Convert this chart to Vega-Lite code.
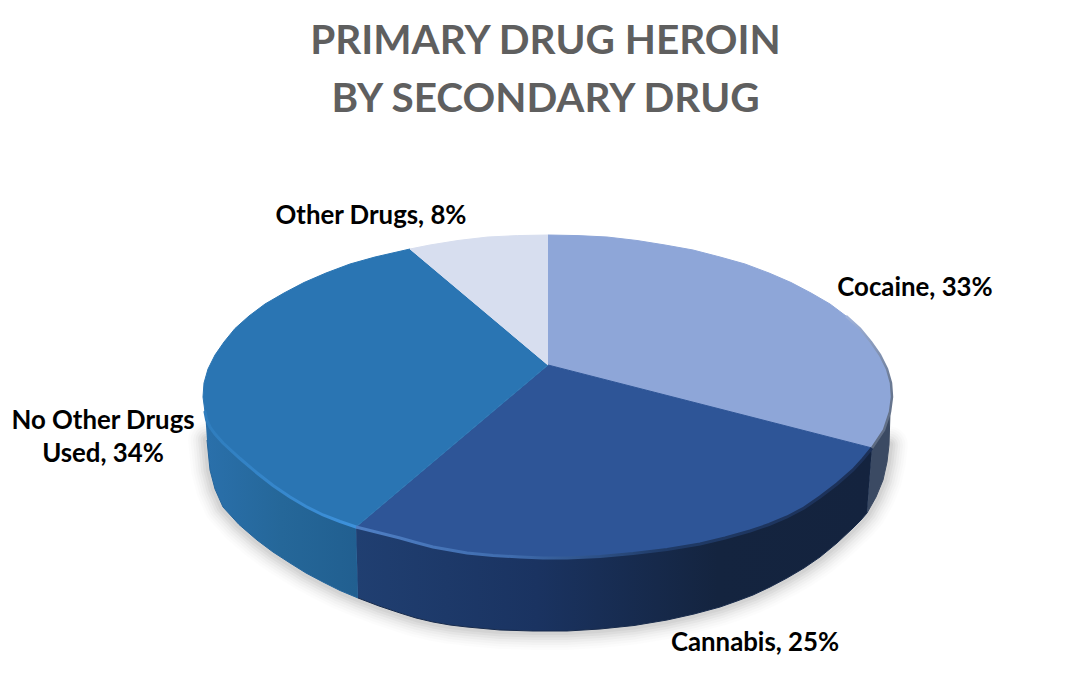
{
"$schema":"https://vega.github.io/schema/vega-lite/v6.json",
"width":1091,"height":673,"autosize":"none","padding":0,"background":"white",
"title":{"text":["PRIMARY DRUG HEROIN","BY SECONDARY DRUG"],"font":"Lato","fontWeight":"bold","fontSize":40.5,"lineHeight":58,"color":"#5f5f5f","anchor":"middle","baseline":"alphabetic","offset":0,"dy":152},
"config":{"view":{"stroke":null}},
"datasets":{
"labels":[
{"drug":"Other Drugs","share":8,"label":"Other Drugs, 8%","x":371,"y":216},
{"drug":"Cocaine","share":33,"label":"Cocaine, 33%","x":915,"y":288},
{"drug":"Cannabis","share":25,"label":"Cannabis, 25%","x":755,"y":643},
{"drug":"No Other Drugs Used","share":34,"label":"No Other Drugs\nUsed, 34%","x":103,"y":421}
],
"outline":[
{"p":"edge","i":1,"x":207,"y":440},{"p":"edge","i":2,"x":210,"y":470},{"p":"edge","i":3,"x":215,"y":489},{"p":"edge","i":4,"x":223,"y":507},{"p":"edge","i":5,"x":239,"y":524.5},{"p":"edge","i":6,"x":257,"y":540},{"p":"edge","i":7,"x":273,"y":552},{"p":"edge","i":8,"x":290,"y":563},{"p":"edge","i":9,"x":306,"y":573},{"p":"edge","i":10,"x":323,"y":582},{"p":"edge","i":11,"x":340,"y":590.5},{"p":"edge","i":12,"x":358,"y":598},{"p":"edge","i":13,"x":379,"y":606},{"p":"edge","i":14,"x":400,"y":613},{"p":"edge","i":15,"x":416,"y":618},{"p":"edge","i":16,"x":433,"y":622},{"p":"edge","i":17,"x":450,"y":625},{"p":"edge","i":18,"x":467,"y":627},{"p":"edge","i":19,"x":500,"y":630},{"p":"edge","i":20,"x":533,"y":631},{"p":"edge","i":21,"x":567,"y":631},{"p":"edge","i":22,"x":600,"y":629},{"p":"edge","i":23,"x":634,"y":625.5},{"p":"edge","i":24,"x":667,"y":620},{"p":"edge","i":25,"x":694,"y":614},{"p":"edge","i":26,"x":720,"y":607},{"p":"edge","i":27,"x":737,"y":601},{"p":"edge","i":28,"x":753,"y":595},{"p":"edge","i":29,"x":770,"y":587},{"p":"edge","i":30,"x":787,"y":578},{"p":"edge","i":31,"x":804,"y":568},{"p":"edge","i":32,"x":820,"y":557},{"p":"edge","i":33,"x":837,"y":543},{"p":"edge","i":34,"x":853,"y":528},{"p":"edge","i":35,"x":861,"y":520},{"p":"edge","i":36,"x":867,"y":513},{"p":"edge","i":37,"x":876,"y":497},{"p":"edge","i":38,"x":883,"y":480},{"p":"edge","i":39,"x":887,"y":462},{"p":"edge","i":40,"x":889,"y":445},

{"p":"wall_noother","i":1,"x":205,"y":412},{"p":"wall_noother","i":2,"x":206.5,"y":419.5},{"p":"wall_noother","i":3,"x":210,"y":427},{"p":"wall_noother","i":4,"x":215,"y":434},{"p":"wall_noother","i":5,"x":223,"y":443},{"p":"wall_noother","i":6,"x":240,"y":458.5},{"p":"wall_noother","i":7,"x":257,"y":473},{"p":"wall_noother","i":8,"x":273,"y":485.5},{"p":"wall_noother","i":9,"x":290,"y":497},{"p":"wall_noother","i":10,"x":306,"y":506.5},{"p":"wall_noother","i":11,"x":323,"y":515},{"p":"wall_noother","i":12,"x":340,"y":521.5},{"p":"wall_noother","i":13,"x":356,"y":527},{"p":"wall_noother","i":14,"x":358,"y":598},{"p":"wall_noother","i":15,"x":340,"y":590.5},{"p":"wall_noother","i":16,"x":323,"y":582},{"p":"wall_noother","i":17,"x":306,"y":573},{"p":"wall_noother","i":18,"x":290,"y":563},{"p":"wall_noother","i":19,"x":273,"y":552},{"p":"wall_noother","i":20,"x":257,"y":540},{"p":"wall_noother","i":21,"x":239,"y":524.5},{"p":"wall_noother","i":22,"x":223,"y":507},{"p":"wall_noother","i":23,"x":215,"y":489},{"p":"wall_noother","i":24,"x":210,"y":470},{"p":"wall_noother","i":25,"x":207,"y":440},

{"p":"wall_cannabis","i":1,"x":356,"y":527},{"p":"wall_cannabis","i":2,"x":378,"y":532.5},{"p":"wall_cannabis","i":3,"x":400,"y":538},{"p":"wall_cannabis","i":4,"x":416,"y":542.5},{"p":"wall_cannabis","i":5,"x":433,"y":547},{"p":"wall_cannabis","i":6,"x":450,"y":550},{"p":"wall_cannabis","i":7,"x":467,"y":553},{"p":"wall_cannabis","i":8,"x":493,"y":555.5},{"p":"wall_cannabis","i":9,"x":520,"y":557},{"p":"wall_cannabis","i":10,"x":543,"y":558},{"p":"wall_cannabis","i":11,"x":567,"y":558},{"p":"wall_cannabis","i":12,"x":600,"y":556.5},{"p":"wall_cannabis","i":13,"x":633,"y":553.5},{"p":"wall_cannabis","i":14,"x":667,"y":549.5},{"p":"wall_cannabis","i":15,"x":700,"y":544},{"p":"wall_cannabis","i":16,"x":725,"y":538},{"p":"wall_cannabis","i":17,"x":750,"y":531},{"p":"wall_cannabis","i":18,"x":769,"y":524.5},{"p":"wall_cannabis","i":19,"x":787,"y":517},{"p":"wall_cannabis","i":20,"x":804,"y":508},{"p":"wall_cannabis","i":21,"x":820,"y":497},{"p":"wall_cannabis","i":22,"x":837,"y":484},{"p":"wall_cannabis","i":23,"x":853,"y":470},{"p":"wall_cannabis","i":24,"x":863,"y":459},{"p":"wall_cannabis","i":25,"x":872,"y":448},{"p":"wall_cannabis","i":26,"x":867,"y":513},{"p":"wall_cannabis","i":27,"x":861,"y":520},{"p":"wall_cannabis","i":28,"x":853,"y":528},{"p":"wall_cannabis","i":29,"x":837,"y":543},{"p":"wall_cannabis","i":30,"x":820,"y":557},{"p":"wall_cannabis","i":31,"x":804,"y":568},{"p":"wall_cannabis","i":32,"x":787,"y":578},{"p":"wall_cannabis","i":33,"x":770,"y":587},{"p":"wall_cannabis","i":34,"x":753,"y":595},{"p":"wall_cannabis","i":35,"x":737,"y":601},{"p":"wall_cannabis","i":36,"x":720,"y":607},{"p":"wall_cannabis","i":37,"x":694,"y":614},{"p":"wall_cannabis","i":38,"x":667,"y":620},{"p":"wall_cannabis","i":39,"x":634,"y":625.5},{"p":"wall_cannabis","i":40,"x":600,"y":629},{"p":"wall_cannabis","i":41,"x":567,"y":631},{"p":"wall_cannabis","i":42,"x":533,"y":631},{"p":"wall_cannabis","i":43,"x":500,"y":630},{"p":"wall_cannabis","i":44,"x":467,"y":627},{"p":"wall_cannabis","i":45,"x":450,"y":625},{"p":"wall_cannabis","i":46,"x":433,"y":622},{"p":"wall_cannabis","i":47,"x":416,"y":618},{"p":"wall_cannabis","i":48,"x":400,"y":613},{"p":"wall_cannabis","i":49,"x":379,"y":606},{"p":"wall_cannabis","i":50,"x":358,"y":598},

{"p":"wall_cocaine","i":1,"x":872,"y":448},{"p":"wall_cocaine","i":2,"x":884,"y":430},{"p":"wall_cocaine","i":3,"x":890,"y":412},{"p":"wall_cocaine","i":4,"x":889,"y":445},{"p":"wall_cocaine","i":5,"x":887,"y":462},{"p":"wall_cocaine","i":6,"x":883,"y":480},{"p":"wall_cocaine","i":7,"x":876,"y":497},{"p":"wall_cocaine","i":8,"x":867,"y":513},

{"p":"top_cocaine","i":1,"x":548,"y":365},{"p":"top_cocaine","i":2,"x":548,"y":235},{"p":"top_cocaine","i":3,"x":578,"y":235.6},{"p":"top_cocaine","i":4,"x":607,"y":237},{"p":"top_cocaine","i":5,"x":637,"y":240.5},{"p":"top_cocaine","i":6,"x":665,"y":245},{"p":"top_cocaine","i":7,"x":693,"y":250},{"p":"top_cocaine","i":8,"x":720,"y":257},{"p":"top_cocaine","i":9,"x":745,"y":264},{"p":"top_cocaine","i":10,"x":769,"y":273},{"p":"top_cocaine","i":11,"x":791,"y":282.5},{"p":"top_cocaine","i":12,"x":811,"y":293},{"p":"top_cocaine","i":13,"x":830,"y":304},{"p":"top_cocaine","i":14,"x":846,"y":316},{"p":"top_cocaine","i":15,"x":860,"y":328.5},{"p":"top_cocaine","i":16,"x":871,"y":342},{"p":"top_cocaine","i":17,"x":880,"y":355},{"p":"top_cocaine","i":18,"x":887,"y":369},{"p":"top_cocaine","i":19,"x":891,"y":383},{"p":"top_cocaine","i":20,"x":892,"y":397},{"p":"top_cocaine","i":21,"x":890,"y":412},{"p":"top_cocaine","i":22,"x":884,"y":430},{"p":"top_cocaine","i":23,"x":872,"y":448},

{"p":"top_cannabis","i":1,"x":548,"y":365},{"p":"top_cannabis","i":2,"x":872,"y":448},{"p":"top_cannabis","i":3,"x":863,"y":459},{"p":"top_cannabis","i":4,"x":853,"y":470},{"p":"top_cannabis","i":5,"x":837,"y":484},{"p":"top_cannabis","i":6,"x":820,"y":497},{"p":"top_cannabis","i":7,"x":804,"y":508},{"p":"top_cannabis","i":8,"x":787,"y":517},{"p":"top_cannabis","i":9,"x":769,"y":524.5},{"p":"top_cannabis","i":10,"x":750,"y":531},{"p":"top_cannabis","i":11,"x":725,"y":538},{"p":"top_cannabis","i":12,"x":700,"y":544},{"p":"top_cannabis","i":13,"x":667,"y":549.5},{"p":"top_cannabis","i":14,"x":633,"y":553.5},{"p":"top_cannabis","i":15,"x":600,"y":556.5},{"p":"top_cannabis","i":16,"x":567,"y":558},{"p":"top_cannabis","i":17,"x":543,"y":558},{"p":"top_cannabis","i":18,"x":520,"y":557},{"p":"top_cannabis","i":19,"x":493,"y":555.5},{"p":"top_cannabis","i":20,"x":467,"y":553},{"p":"top_cannabis","i":21,"x":450,"y":550},{"p":"top_cannabis","i":22,"x":433,"y":547},{"p":"top_cannabis","i":23,"x":416,"y":542.5},{"p":"top_cannabis","i":24,"x":400,"y":538},{"p":"top_cannabis","i":25,"x":378,"y":532.5},{"p":"top_cannabis","i":26,"x":356,"y":527},

{"p":"top_noother","i":1,"x":548,"y":365},{"p":"top_noother","i":2,"x":356,"y":527},{"p":"top_noother","i":3,"x":340,"y":521.5},{"p":"top_noother","i":4,"x":323,"y":515},{"p":"top_noother","i":5,"x":306,"y":506.5},{"p":"top_noother","i":6,"x":290,"y":497},{"p":"top_noother","i":7,"x":273,"y":485.5},{"p":"top_noother","i":8,"x":257,"y":473},{"p":"top_noother","i":9,"x":240,"y":458.5},{"p":"top_noother","i":10,"x":223,"y":443},{"p":"top_noother","i":11,"x":215,"y":434},{"p":"top_noother","i":12,"x":210,"y":427},{"p":"top_noother","i":13,"x":206.5,"y":419.5},{"p":"top_noother","i":14,"x":205,"y":412},{"p":"top_noother","i":15,"x":203,"y":397},{"p":"top_noother","i":16,"x":204,"y":383},{"p":"top_noother","i":17,"x":208,"y":369},{"p":"top_noother","i":18,"x":215,"y":355},{"p":"top_noother","i":19,"x":224,"y":342},{"p":"top_noother","i":20,"x":235,"y":328.5},{"p":"top_noother","i":21,"x":249,"y":316},{"p":"top_noother","i":22,"x":265,"y":304},{"p":"top_noother","i":23,"x":284,"y":293},{"p":"top_noother","i":24,"x":304,"y":282.5},{"p":"top_noother","i":25,"x":326,"y":273},{"p":"top_noother","i":26,"x":350,"y":264},{"p":"top_noother","i":27,"x":375,"y":257},{"p":"top_noother","i":28,"x":410,"y":249},

{"p":"top_other","i":1,"x":548,"y":365},{"p":"top_other","i":2,"x":410,"y":249},{"p":"top_other","i":3,"x":430,"y":245},{"p":"top_other","i":4,"x":458,"y":240.5},{"p":"top_other","i":5,"x":488,"y":237},{"p":"top_other","i":6,"x":517.5,"y":235.6},{"p":"top_other","i":7,"x":548,"y":235},

{"p":"bevel_noother","i":1,"x":205,"y":412},{"p":"bevel_noother","i":2,"x":206.5,"y":419.5},{"p":"bevel_noother","i":3,"x":210,"y":427},{"p":"bevel_noother","i":4,"x":215,"y":434},{"p":"bevel_noother","i":5,"x":223,"y":443},{"p":"bevel_noother","i":6,"x":240,"y":458.5},{"p":"bevel_noother","i":7,"x":257,"y":473},{"p":"bevel_noother","i":8,"x":273,"y":485.5},{"p":"bevel_noother","i":9,"x":290,"y":497},{"p":"bevel_noother","i":10,"x":306,"y":506.5},{"p":"bevel_noother","i":11,"x":323,"y":515},{"p":"bevel_noother","i":12,"x":340,"y":521.5},{"p":"bevel_noother","i":13,"x":356,"y":527},

{"p":"bevel_cannabis","i":1,"x":356,"y":527},{"p":"bevel_cannabis","i":2,"x":378,"y":532.5},{"p":"bevel_cannabis","i":3,"x":400,"y":538},{"p":"bevel_cannabis","i":4,"x":416,"y":542.5},{"p":"bevel_cannabis","i":5,"x":433,"y":547},{"p":"bevel_cannabis","i":6,"x":450,"y":550},{"p":"bevel_cannabis","i":7,"x":467,"y":553},{"p":"bevel_cannabis","i":8,"x":493,"y":555.5},{"p":"bevel_cannabis","i":9,"x":520,"y":557},{"p":"bevel_cannabis","i":10,"x":543,"y":558},{"p":"bevel_cannabis","i":11,"x":567,"y":558},{"p":"bevel_cannabis","i":12,"x":600,"y":556.5},{"p":"bevel_cannabis","i":13,"x":633,"y":553.5},{"p":"bevel_cannabis","i":14,"x":667,"y":549.5},{"p":"bevel_cannabis","i":15,"x":700,"y":544},{"p":"bevel_cannabis","i":16,"x":725,"y":538},{"p":"bevel_cannabis","i":17,"x":750,"y":531},{"p":"bevel_cannabis","i":18,"x":769,"y":524.5},{"p":"bevel_cannabis","i":19,"x":787,"y":517},{"p":"bevel_cannabis","i":20,"x":804,"y":508},{"p":"bevel_cannabis","i":21,"x":820,"y":497},{"p":"bevel_cannabis","i":22,"x":837,"y":484},{"p":"bevel_cannabis","i":23,"x":853,"y":470},{"p":"bevel_cannabis","i":24,"x":863,"y":459},{"p":"bevel_cannabis","i":25,"x":872,"y":448},

{"p":"bevel_cocaine","i":1,"x":846,"y":316},{"p":"bevel_cocaine","i":2,"x":860,"y":328.5},{"p":"bevel_cocaine","i":3,"x":871,"y":342},{"p":"bevel_cocaine","i":4,"x":880,"y":355},{"p":"bevel_cocaine","i":5,"x":887,"y":369},{"p":"bevel_cocaine","i":6,"x":891,"y":383},{"p":"bevel_cocaine","i":7,"x":892,"y":397},{"p":"bevel_cocaine","i":8,"x":890,"y":412},{"p":"bevel_cocaine","i":9,"x":884,"y":430},{"p":"bevel_cocaine","i":10,"x":872,"y":448}
]
},
"data":{"name":"outline"},
"encoding":{
"x":{"field":"x","type":"quantitative","scale":{"domain":[0,1091],"nice":false,"zero":false},"axis":null},
"y":{"field":"y","type":"quantitative","scale":{"domain":[673,0],"nice":false,"zero":false},"axis":null},
"order":{"field":"i","type":"ordinal"}
},
"layer":[
{"transform":[{"filter":"datum.p==='edge'"}],"mark":{"type":"line","stroke":"#000000","strokeWidth":38,"opacity":0.012,"strokeJoin":"round","strokeCap":"round"}},
{"transform":[{"filter":"datum.p==='edge'"}],"mark":{"type":"line","stroke":"#000000","strokeWidth":33,"opacity":0.016,"strokeJoin":"round","strokeCap":"round"}},
{"transform":[{"filter":"datum.p==='edge'"}],"mark":{"type":"line","stroke":"#000000","strokeWidth":28,"opacity":0.02,"strokeJoin":"round","strokeCap":"round"}},
{"transform":[{"filter":"datum.p==='edge'"}],"mark":{"type":"line","stroke":"#000000","strokeWidth":23,"opacity":0.025,"strokeJoin":"round","strokeCap":"round"}},
{"transform":[{"filter":"datum.p==='edge'"}],"mark":{"type":"line","stroke":"#000000","strokeWidth":18,"opacity":0.03,"strokeJoin":"round","strokeCap":"round"}},
{"transform":[{"filter":"datum.p==='edge'"}],"mark":{"type":"line","stroke":"#000000","strokeWidth":13,"opacity":0.035,"strokeJoin":"round","strokeCap":"round"}},
{"transform":[{"filter":"datum.p==='edge'"}],"mark":{"type":"line","stroke":"#000000","strokeWidth":8,"opacity":0.04,"strokeJoin":"round","strokeCap":"round"}},

{"transform":[{"filter":"datum.p==='wall_noother'"}],"mark":{"type":"line","strokeWidth":1,"stroke":"#24659c","fill":{"gradient":"linear","x1":0,"y1":0,"x2":1,"y2":0,"stops":[{"offset":0,"color":"#2a70ab"},{"offset":0.5,"color":"#256799"},{"offset":1,"color":"#215f90"}]}}},
{"transform":[{"filter":"datum.p==='wall_cannabis'"}],"mark":{"type":"line","strokeWidth":1,"stroke":"#182b4c","fill":{"gradient":"linear","x1":0,"y1":0,"x2":1,"y2":0,"stops":[{"offset":0,"color":"#203f71"},{"offset":0.35,"color":"#1a3361"},{"offset":0.7,"color":"#14243f"},{"offset":1,"color":"#14233e"}]}}},
{"transform":[{"filter":"datum.p==='wall_cocaine'"}],"mark":{"type":"line","strokeWidth":1,"stroke":"#3b4a63","fill":"#3b4a63"}},

{"transform":[{"filter":"datum.p==='top_cocaine'"}],"mark":{"type":"line","strokeWidth":1,"stroke":"#8ea6d8","fill":"#8ea6d8"}},
{"transform":[{"filter":"datum.p==='top_cannabis'"}],"mark":{"type":"line","strokeWidth":1,"stroke":"#2e5597","fill":"#2e5597"}},
{"transform":[{"filter":"datum.p==='top_noother'"}],"mark":{"type":"line","strokeWidth":1,"stroke":"#2a75b3","fill":"#2a75b3"}},
{"transform":[{"filter":"datum.p==='top_other'"}],"mark":{"type":"line","strokeWidth":1,"stroke":"#d7deef","fill":"#d7deef"}},

{"transform":[{"filter":"datum.p==='bevel_noother'"}],"mark":{"type":"line","strokeWidth":3,"strokeCap":"round","stroke":{"gradient":"linear","x1":0,"y1":0,"x2":1,"y2":0,"stops":[{"offset":0,"color":"#2f7dbd"},{"offset":1,"color":"#3e92dc"}]}}},
{"transform":[{"filter":"datum.p==='bevel_cannabis'"}],"mark":{"type":"line","strokeWidth":3,"stroke":{"gradient":"linear","x1":0,"y1":0,"x2":1,"y2":0,"stops":[{"offset":0,"color":"#4f7fc4"},{"offset":0.3,"color":"#3f6cae"},{"offset":0.6,"color":"#1f3a66"},{"offset":1,"color":"#1c3057"}]}}},
{"transform":[{"filter":"datum.p==='bevel_cocaine'"}],"mark":{"type":"line","strokeWidth":2.5,"stroke":{"gradient":"linear","x1":0,"y1":0,"x2":0,"y2":1,"stops":[{"offset":0,"color":"#9fb2da"},{"offset":0.5,"color":"#6b7a94"},{"offset":1,"color":"#5d6a80"}]}}},

{"data":{"name":"labels"},"mark":{"type":"text","font":"Lato","fontWeight":"bold","fontSize":25.8,"lineHeight":33,"lineBreak":"\n","color":"#000000","align":"center","baseline":"middle"},"encoding":{"text":{"field":"label"},"order":{"field":"share","type":"quantitative"}}}
]
}
